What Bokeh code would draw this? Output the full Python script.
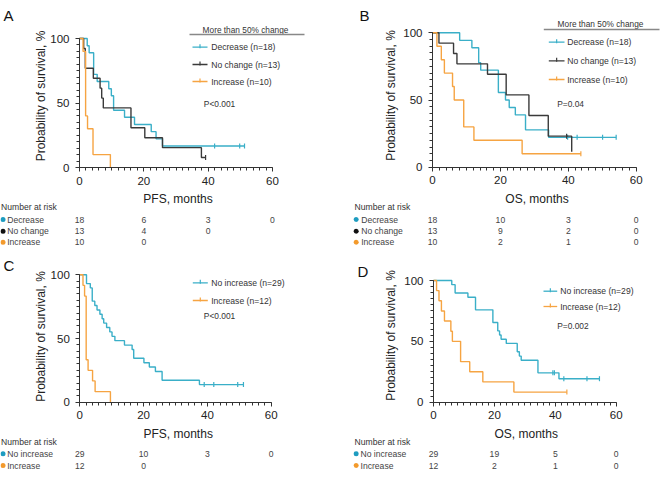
import math
from bokeh.plotting import figure
from bokeh.models import Range1d, FixedTicker
from bokeh.layouts import column, row
from bokeh.core.properties import value
from bokeh.embed import file_html
from bokeh.resources import INLINE

FONT = "Liberation Sans"
TEAL = "#3AAFC8"
BLACK = "#3A3A3A"
ORANGE = "#F6A442"
DOT_TEAL = "#1E9CC0"
DOT_BLACK = "#111111"
DOT_ORANGE = "#F39A2C"

# ---------------- data (months, survival %) ----------------
# Panel A: PFS by >50% change
A_dec_t = [0, 2.4, 3.0, 4.4, 5.5, 9.1, 9.9, 10.6, 14.0, 17.1, 22.3, 23.8, 25.8, 51.3]
A_dec_s = [100, 94.4, 88.9, 72.2, 66.7, 61.1, 55.6, 44.4, 38.9, 33.3, 27.8, 22.2, 16.7, 16.7]
A_dec_c = [42.0, 49.8, 51.3]
A_noc_t = [0, 1.3, 1.8, 4.3, 6.4, 6.9, 7.4, 16.0, 20.3, 25.8, 37.9, 39.2]
A_noc_s = [100, 92.3, 76.9, 69.2, 61.5, 53.8, 46.2, 30.8, 23.1, 15.4, 7.7, 7.7]
A_noc_c = [39.2]
A_inc_t = [0, 1.1, 1.9, 2.5, 4.2, 9.6]
A_inc_s = [100, 90, 40, 30, 10, 0]
A_inc_c = []

# Panel B: OS by >50% change
B_dec_t = [0, 8.0, 11.6, 13.6, 14.2, 19.4, 21.5, 22.6, 24.4, 27.4, 34.2, 54.1]
B_dec_s = [100, 94.4, 88.9, 77.8, 72.2, 55.6, 50.0, 44.4, 38.9, 27.8, 22.2, 22.2]
B_dec_c = [39.8, 42.6, 50.1, 54.1]
B_noc_t = [0, 1.9, 6.2, 7.2, 16.2, 21.7, 28.4, 34.1, 41.0]
B_noc_s = [100, 92.3, 84.6, 76.9, 69.2, 53.8, 38.5, 23.1, 11.5]
B_noc_c = [39.5]
B_inc_t = [0, 1.3, 2.6, 3.5, 5.9, 6.4, 9.2, 12.2, 26.4, 43.7]
B_inc_s = [100, 90, 80, 70, 60, 50, 30, 20, 10, 10]
B_inc_c = [43.7]

# Panel C: PFS by increase
C_no_t = [0, 2.1, 3.3, 3.9, 4.7, 5.4, 6.3, 7.0, 7.5, 8.4, 9.4, 10.1, 11.0, 14.0,
          16.4, 16.9, 20.1, 21.8, 23.7, 25.8, 37.5, 51.3]
C_no_s = [100, 93.1, 89.7, 79.3, 75.9, 72.4, 69.0, 65.5, 62.1, 58.6, 55.2, 51.7, 48.3, 44.8,
          41.4, 34.5, 31.0, 27.6, 24.1, 17.2, 13.8, 13.8]
C_no_c = [39.0, 42.0, 49.5, 51.3]
C_inc_t = [0, 1.0, 1.5, 2.0, 2.6, 4.0, 4.8, 9.6]
C_inc_s = [100, 91.7, 83.3, 33.3, 25.0, 16.7, 8.3, 0]
C_inc_c = []

# Panel D: OS by increase
D_no_t = [0, 6.0, 7.1, 11.3, 13.8, 19.5, 21.1, 21.7, 22.2, 23.9, 27.5, 28.2, 28.8, 34.3, 41.2, 54.5]
D_no_s = [100, 96.6, 89.7, 86.2, 75.9, 65.5, 58.6, 55.2, 51.7, 48.3, 41.4, 37.9, 34.5, 24.1, 19.3, 19.3]
D_no_c = [39.2, 39.7, 42.8, 50.4, 54.5]
D_inc_t = [0, 1.0, 1.8, 2.6, 3.6, 5.7, 6.2, 8.9, 11.9, 16.2, 26.4, 43.8]
D_inc_s = [100, 91.7, 83.3, 75.0, 66.7, 58.3, 50.0, 33.3, 25.0, 16.7, 8.3, 8.3]
D_inc_c = [43.8]

# number at risk
risk_times = [0, 20, 40, 60]
A_risk = {"Decrease": [18, 6, 3, 0], "No change": [13, 4, 0], "Increase": [10, 0]}
B_risk = {"Decrease": [18, 10, 3, 0], "No change": [13, 9, 2, 0], "Increase": [10, 2, 1, 0]}
C_risk = {"No increase": [29, 10, 3, 0], "Increase": [12, 0]}
D_risk = {"No increase": [29, 19, 5, 0], "Increase": [12, 2, 1, 0]}

legend3 = ["Decrease (n=18)", "No change (n=13)", "Increase (n=10)"]
legend2 = ["No increase (n=29)", "Increase (n=12)"]
YLABEL = "Probability of survival, %"


def surv_at(t, s, c):
    v = s[0]
    for ti, si in zip(t, s):
        if ti <= c:
            v = si
    return v


def txt(p, x, y, t, size, color="#333333", align="left", angle=0.0):
    p.text(x=x, y=y, text=t, text_font=value(FONT), text_font_size=value(size),
           text_color=color, text_align=align, text_baseline="middle", angle=angle)


def panel(box, axes):
    L, R, T, B = box
    x0, x60, y100, y0 = axes
    sx = (x60 - x0) / 60.0
    sy = (y0 - y100) / 100.0
    X = lambda px: (px - x0) / sx
    Y = lambda py: (y0 - py) / sy
    p = figure(width=R - L, height=B - T, x_range=Range1d(X(L), X(R)), y_range=Range1d(Y(B), Y(T)),
               output_backend="svg", toolbar_location=None, min_border=0)
    p.outline_line_color = None
    p.grid.visible = False
    p.background_fill_color = "white"
    p.border_fill_color = "white"
    xa = p.xaxis[0]
    ya = p.yaxis[0]
    xa.fixed_location = 0
    ya.fixed_location = 0
    xa.bounds = (0, 60)
    ya.bounds = (0, 100)
    xa.ticker = FixedTicker(ticks=[0, 20, 40, 60], minor_ticks=list(range(0, 61, 2)))
    ya.ticker = FixedTicker(ticks=[0, 50, 100], minor_ticks=list(range(0, 101, 5)))
    for ax in (xa, ya):
        ax.major_label_text_font = FONT
        ax.major_label_text_font_size = "11.5px"
        ax.major_label_text_color = "#222222"
        ax.axis_line_color = "#333333"
        ax.major_tick_line_color = "#333333"
        ax.minor_tick_line_color = "#333333"
        ax.major_tick_out = 4
        ax.major_tick_in = 0
        ax.minor_tick_out = 3
        ax.minor_tick_in = 0
    xa.major_label_standoff = 5
    ya.major_label_standoff = 6
    return p, X, Y


def axis_labels(p, X, Y, xlabel, xl_xy, yl_xy):
    txt(p, [X(xl_xy[0])], [Y(xl_xy[1])], [xlabel], "12px", "#222222", "center")
    txt(p, [X(yl_xy[0])], [Y(yl_xy[1])], [YLABEL], "12px", "#222222", "center", math.pi / 2)


def km(p, t, s, c, color):
    p.step(t, s, mode="after", line_color=color, line_width=1.4)
    if c:
        p.scatter(c, [surv_at(t, s, ci) for ci in c], marker="dash", angle=math.pi / 2,
                  size=5, line_color=color, line_width=1.2)


def legend(p, X, Y, labels, colors, ys, lx1, lx2, tx):
    for lab, col, py in zip(labels, colors, ys):
        p.segment(x0=[X(lx1)], y0=[Y(py)], x1=[X(lx2)], y1=[Y(py)], line_color=col, line_width=1.3)
        p.scatter([X((lx1 + lx2) / 2)], [Y(py - 1)], marker="dash", angle=math.pi / 2, size=4,
                  line_color=col, line_width=1.2)
        txt(p, [X(tx)], [Y(py)], [lab], "8.6px", "#333333")


def risk_table(p, X, Y, risk, dotcols, title_xy, dot_x, lab_x, rows_y):
    txt(p, [X(title_xy[0])], [Y(title_xy[1])], ["Number at risk"], "8.6px", "#333333")
    for (name, vals), col, py in zip(risk.items(), dotcols, rows_y):
        p.scatter([X(dot_x)], [Y(py)], size=5, fill_color=col, line_color=None)
        txt(p, [X(lab_x)], [Y(py)], [name], "8.6px", "#444444")
        txt(p, risk_times[:len(vals)], [Y(py)] * len(vals), [str(v) for v in vals], "8.6px",
            "#444444", "center")


# ---------------- Panel A ----------------
pA, X, Y = panel((0, 334, 0, 250), (79, 272, 38, 167))
axis_labels(pA, X, Y, "PFS, months", (177.5, 198), (40, 95.5))
km(pA, A_dec_t, A_dec_s, A_dec_c, TEAL)
km(pA, A_noc_t, A_noc_s, A_noc_c, BLACK)
km(pA, A_inc_t, A_inc_s, A_inc_c, ORANGE)
txt(pA, [X(3)], [Y(15)], ["A"], "15px", "#111111")
txt(pA, [X(245)], [Y(29)], ["More than 50% change"], "8.3px", "#333333", "center")
pA.segment(x0=[X(189)], y0=[Y(34)], x1=[X(304)], y1=[Y(34)], line_color="#888888", line_width=1.3)
legend(pA, X, Y, legend3, [TEAL, BLACK, ORANGE], [46.7, 64, 81], 192, 207, 210.7)
txt(pA, [X(203.3)], [Y(103.3)], ["P<0.001"], "8.4px", "#333333")
risk_table(pA, X, Y, A_risk, [DOT_TEAL, DOT_BLACK, DOT_ORANGE], (0.5, 206), 2.5, 6.7,
           [219, 230.7, 241.7])

# ---------------- Panel B ----------------
pB, X, Y = panel((334, 668, 0, 250), (432, 635.7, 32.3, 166.7))
axis_labels(pB, X, Y, "OS, months", (536.5, 198), (390.7, 95))
km(pB, B_dec_t, B_dec_s, B_dec_c, TEAL)
km(pB, B_noc_t, B_noc_s, B_noc_c, BLACK)
km(pB, B_inc_t, B_inc_s, B_inc_c, ORANGE)
txt(pB, [X(359)], [Y(15)], ["B"], "15px", "#111111")
txt(pB, [X(600)], [Y(23.3)], ["More than 50% change"], "8.3px", "#333333", "center")
pB.segment(x0=[X(543.3)], y0=[Y(29)], x1=[X(659)], y1=[Y(29)], line_color="#888888", line_width=1.3)
legend(pB, X, Y, legend3, [TEAL, BLACK, ORANGE], [41.7, 60.3, 79], 548.3, 564, 566.7)
txt(pB, [X(556.7)], [Y(103.3)], ["P=0.04"], "8.4px", "#333333")
risk_table(pB, X, Y, B_risk, [DOT_TEAL, DOT_BLACK, DOT_ORANGE], (354, 206), 355.7, 360.7,
           [219, 230.7, 241.7])

# ---------------- Panel C ----------------
pC, X, Y = panel((0, 334, 250, 482), (79.3, 270.7, 274.3, 401.7))
axis_labels(pC, X, Y, "PFS, months", (177.7, 433.3), (40, 336))
km(pC, C_no_t, C_no_s, C_no_c, TEAL)
km(pC, C_inc_t, C_inc_s, C_inc_c, ORANGE)
txt(pC, [X(3)], [Y(264.7)], ["C"], "15px", "#111111")
legend(pC, X, Y, legend2, [TEAL, ORANGE], [282.3, 300], 192.3, 207.3, 210.7)
txt(pC, [X(203.3)], [Y(315.7)], ["P<0.001"], "8.4px", "#333333")
risk_table(pC, X, Y, C_risk, [DOT_TEAL, DOT_ORANGE], (0.5, 441.7), 2.5, 6.7, [453.3, 465])

# ---------------- Panel D ----------------
pD, X, Y = panel((334, 668, 250, 482), (433, 615.7, 280, 401.7))
axis_labels(pD, X, Y, "OS, months", (525.7, 433.3), (390.7, 335))
km(pD, D_no_t, D_no_s, D_no_c, TEAL)
km(pD, D_inc_t, D_inc_s, D_inc_c, ORANGE)
txt(pD, [X(357)], [Y(271)], ["D"], "15px", "#111111")
legend(pD, X, Y, legend2, [TEAL, ORANGE], [290.7, 306], 543, 556.7, 559.7)
txt(pD, [X(556.7)], [Y(325.3)], ["P=0.002"], "8.4px", "#333333")
risk_table(pD, X, Y, D_risk, [DOT_TEAL, DOT_ORANGE], (354, 441.7), 355.7, 360, [453.3, 465])

layout = column(row(pA, pB, spacing=0), row(pC, pD, spacing=0), spacing=0)
open("out.html", "w").write(file_html(layout, INLINE))
